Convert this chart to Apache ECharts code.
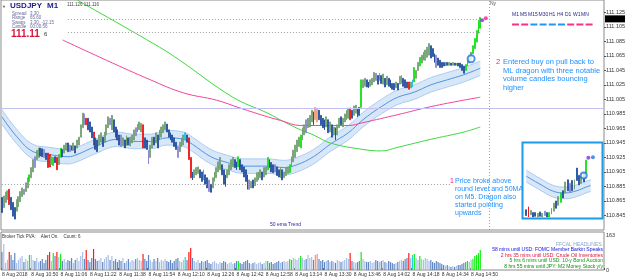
<!DOCTYPE html>
<html>
<head>
<meta charset="utf-8">
<script src="https://cdn.jsdelivr.net/npm/echarts@6.0.0/dist/echarts.min.js"></script>
<style>
  html, body { margin: 0; padding: 0; background: #fff; }
  #chart { width: 625px; height: 279px; }
</style>
</head>
<body>
<div id="chart"></div>
<script>
// prices are written as points (0.001) above basePrice
const basePrice = 110.8;
const startMinute = 10 * 60 + 34; // first bar 10:34
const slotCount = 329;            // bars plus the empty shift area on the right

// M1 candles, "low-high" in points
const candles = [
  '49-70', '56-72', '63-77', '67-79', '60-81', '53-70', '44-63', '40-56', '51-67', '57-71',
  '64-78', '71-83', '74-81', '78-90', '83-97', '92-101', '97-111', '105-122', '111-126', '122-135',
  '125-138', '127-138', '126-137', '125-136', '122-131', '111-131', '112-129', '115-126', '114-125', '118-126',
  '108-125', '115-129', '125-138', '126-136', '131-142', '135-145', '133-145', '133-142', '135-141', '135-145',
  '131-141', '138-149', '142-153', '153-170', '166-186', '170-185', '170-179', '163-179', '160-174', '152-167',
  '142-160', '136-152', '133-149', '142-156', '146-159', '140-153', '146-160', '156-170', '166-181', '170-179',
  '163-183', '160-177', '153-167', '149-163', '142-156', '140-156', '141-152', '138-149', '141-155', '142-152',
  '141-153', '145-156', '149-163', '155-166', '160-171', '163-174', '160-172', '138-170', '138-152', '136-149',
  '116-135', '125-142', '138-153', '142-153', '145-159', '138-156', '149-163', '153-167', '159-170', '163-174',
  '160-171', '153-163', '149-159', '146-156', '140-152', '136-146', '125-140', '133-146', '140-152', '142-156',
  '149-159', '146-156', '122-152', '97-125', '94-105', '97-108', '101-111', '103-112', '97-108', '92-105',
  '94-108', '88-101', '83-97', '78-94', '77-88', '83-97', '92-105', '97-111', '105-119', '108-125',
  '101-115', '88-108', '85-101', '97-108', '101-115', '108-122', '112-125', '111-122', '108-119', '112-126',
  '108-122', '105-115', '98-112', '92-108', '81-101', '81-94', '83-92', '83-94', '86-97', '92-104',
  '94-105', '97-108', '94-105', '98-111', '101-112', '108-125', '111-122', '105-118', '104-115', '105-115',
  '100-112', '98-108', '97-111', '94-108', '97-105', '100-111', '103-112', '104-115', '112-126', '119-135',
  '125-142', '133-149', '140-153', '138-156', '149-166', '156-170', '159-177', '166-179', '167-183', '174-190',
  '170-188', '177-194', '174-193', '177-190', '170-183', '166-179', '163-177', '167-181', '159-177', '160-174',
  '153-170', '156-167', '149-166', '156-170', '166-179', '170-181', '167-179', '174-185', '177-190', '179-193',
  '177-193', '179-190', '183-196', '186-197', '181-193', '183-194', '194-232', '221-232', '223-234', '222-232',
  '221-229', '223-232', '225-234', '229-242', '231-241', '226-238', '231-241', '227-238', '226-240', '222-234',
  '225-237', '223-234', '221-232', '219-227', '218-227', '221-229', '218-227', '226-237', '227-238', '223-234',
  '221-232', '221-229', '219-229', '221-229', '222-232', '229-249', '234-245', '245-256', '251-263', '255-266',
  '259-270', '259-273', '263-277', '266-282', '262-279', '264-275', '256-268', '249-266', '252-262', '249-259',
  '249-256', '251-256', '251-256', '252-256', '252-256', '252-255', '252-256', '252-255', '252-255', '251-255',
  '249-255', '245-253', '241-251', '245-253', '251-259', '255-264', '259-270', '268-279', '275-289', '284-300',
  '296-314', '303-318'
];

// candle kind per bar: u up, d down, l pale, g green climax, r red climax, c cyan, o orange
const candleKinds = (
  'duuurddduu uuluuguulu uddldrrugd rugduudldu duuuulrddd rdduuduuul uddddludud uuuluuurdd ' +
  'luududuuuu ddddddluuu cdrrduuudd uddlduuuuu ddduuuuddg dddddluduu uuduugdddl dduduuuggu ' +
  'uuuguuluuu dooddddudu duduuduuuu rduuddguud duuuldudud udddduduud ddrucguugu uuuudddldd ' +
  'ddudududud dddgguuggg gg'
).replace(/ /g, '');

// tick volume per bar
const volumes = [
  84, 121, 33, 47, 84, 70, 47, 79, 33, 47,
  56, 65, 37, 51, 42, 70, 70, 47, 42, 56,
  37, 42, 51, 33, 47, 70, 84, 42, 79, 65,
  84, 60, 75, 42, 51, 37, 47, 42, 56, 33,
  47, 56, 42, 65, 84, 51, 93, 47, 37, 56,
  98, 51, 42, 47, 56, 37, 51, 60, 70, 47,
  65, 42, 51, 37, 47, 42, 56, 33, 42, 51,
  37, 47, 42, 51, 56, 47, 42, 75, 51, 42,
  70, 47, 37, 51, 42, 56, 37, 47, 42, 51,
  42, 37, 47, 33, 42, 51, 56, 42, 37, 47,
  60, 47, 84, 103, 56, 42, 37, 47, 33, 42,
  37, 42, 47, 33, 28, 37, 42, 33, 28, 37,
  33, 42, 37, 28, 33, 37, 28, 33, 42, 42,
  33, 28, 37, 42, 47, 33, 28, 33, 37, 28,
  33, 37, 28, 33, 42, 42, 33, 37, 28, 33,
  37, 42, 33, 37, 42, 37, 42, 51, 47, 56,
  51, 47, 56, 65, 56, 47, 51, 70, 56, 60,
  47, 70, 75, 51, 42, 47, 37, 42, 47, 37,
  42, 37, 33, 47, 42, 37, 42, 47, 56, 51,
  79, 42, 37, 33, 37, 42, 84, 51, 42, 37,
  37, 42, 33, 37, 47, 42, 37, 42, 47, 37,
  33, 42, 37, 33, 28, 33, 37, 42, 47, 42,
  51, 56, 79, 56, 70, 75, 56, 47, 65, 51,
  47, 56, 51, 42, 47, 37, 33, 42, 37, 33,
  28, 23, 19, 23, 19, 14, 19, 14, 19, 23,
  23, 28, 33, 37, 42, 37, 47, 51, 65, 70,
  79, 93
];

// moving averages, [bar, points]
const slowMa = [[41, 342], [86, 277], [97, 259], [126, 208], [145, 186], [154, 174], [163, 163], [170, 156],
  [179, 145], [197, 136], [207, 134], [216, 139], [234, 150], [252, 160], [261, 167]];
const pinkMa = [[33, 287], [57, 259], [81, 232], [99, 214], [117, 204], [130, 193], [145, 181], [152, 176],
  [163, 169], [179, 169], [189, 169], [197, 173], [216, 184], [234, 195], [252, 204], [261, 208]];
const dragonMid = [[0, 181], [8, 154], [17, 133], [26, 129], [36, 126], [41, 129], [50, 139], [63, 150],
  [72, 147], [81, 147], [90, 152], [99, 150], [104, 143], [114, 126], [123, 118], [132, 113], [145, 113],
  [154, 111], [161, 115], [170, 126], [179, 143], [189, 159], [197, 177], [207, 195], [216, 208],
  [225, 215], [234, 225], [243, 232], [252, 239], [261, 248]];

const roundLevel = 193;     // lavender level
const bidLevel = 316;       // 111.116
const highLevel = 298;
const lowLevel = 88;
const entryCircle = [256, 261];
const purpleDot = [262, 314];
const pinkDot = [264, 317];
const nySession = 266;
const lastPrice = 111.116;

// inset (M5 view), own scale 0..100
const insetCandles = ['2-10', '0-14', '3-9', '0-6', '1-6', '0-5', '1-7', '0-5', '2-8', '0-6',
  '0-6', '4-12', '8-19', '12-22', '16-28', '20-33', '26-36', '33-48', '36-51', '34-46',
  '36-50', '38-51', '50-67', '44-57', '46-56', '48-60', '60-78'];
const insetKinds = 'drudduduldguudugdudlduddudg';
const insetDragon = [[0, 56], [6, 45], [12, 35], [17, 33], [22, 36], [26, 41], [28, 43]];

const candleColor = { u: '#6f9e6f', d: '#1d4a9a', l: '#8c82d2', g: '#10e010', r: '#f00e0e', c: '#1fc0e0', o: '#f49a70' };
const volColor = { u: '#aac0e4', d: '#5f86c4', l: '#5f86c4', g: '#10ee10', r: '#ff1a1a', c: '#22d4d4', o: '#f59080' };

const toPrice = v => +(basePrice + v / 1000).toFixed(4);

const times = [];
for (let i = 0; i < slotCount; i++) {
  const m = startMinute + i;
  times.push(String(Math.floor(m / 60)).padStart(2, '0') + ':' + String(m % 60).padStart(2, '0'));
}

function candleItems(list, kinds, conv) {
  return list.map((s, i) => {
    const [lo, hi] = s.split('-').map(Number);
    const c = candleColor[kinds[i]];
    return {
      value: [conv(lo), conv(hi), conv(lo), conv(hi)],
      itemStyle: { color: c, color0: c, borderColor: c, borderColor0: c }
    };
  });
}

const bandHalf = 10;
const insetHalf = 8;
const font = '"Liberation Sans", Arial, sans-serif';
const blueText = '#1e90ff';
const pinkText = '#ff1493';

const chart = echarts.init(document.getElementById('chart'));

const dotted = { color: '#a0a0a0', type: [1, 2], width: 1 };
const labelBars = i => i % 16 === 0 && i < candles.length;

const option = {
  animation: false,
  textStyle: { fontFamily: font },
  grid: [
    { left: 1, right: 21, top: 0, height: 230, show: true, borderColor: '#8a8a8a', borderWidth: 1, outerBoundsMode: 'none' },
    { left: 1, right: 21, top: 232, height: 38, show: true, borderColor: '#8a8a8a', borderWidth: 1, outerBoundsMode: 'none' },
    { left: 525, top: 144, width: 76, height: 73, show: false, outerBoundsMode: 'none' }
  ],
  xAxis: [
    { type: 'category', gridIndex: 0, data: times, axisLine: { show: false }, axisTick: { show: false }, axisLabel: { show: false }, splitLine: { show: false } },
    {
      type: 'category', gridIndex: 1, data: times, position: 'bottom',
      axisLine: { show: false },
      axisTick: { show: true, interval: labelBars, length: 2, inside: true, lineStyle: { color: '#555' } },
      axisLabel: {
        interval: labelBars, hideOverlap: false,
        formatter: (val, i) => (i === 0 ? '8 Aug 2018' : '8 Aug ' + val),
        fontSize: 5, color: '#333', align: 'left', margin: 2, fontFamily: font
      },
      splitLine: { show: false }
    },
    { type: 'category', gridIndex: 2, data: insetCandles.map((_, i) => i).concat([27, 28, 29, 30, 31, 32]), show: false }
  ],
  yAxis: [
    {
      type: 'value', gridIndex: 0, position: 'right', min: 110.825, max: 111.142, interval: 0.02,
      axisLine: { show: false }, axisTick: { show: true, length: 2, lineStyle: { color: '#555' } },
      axisLabel: { showMinLabel: false, showMaxLabel: false, formatter: v => v.toFixed(3), fontSize: 5.5, color: '#333', margin: 2, fontFamily: font },
      splitLine: { show: false }
    },
    {
      type: 'value', gridIndex: 1, position: 'right', min: 0, max: 177, interval: 163,
      axisLine: { show: false }, axisTick: { show: false },
      axisLabel: { showMaxLabel: false, fontSize: 5.5, color: '#333', margin: 2, fontFamily: font },
      splitLine: { show: false }
    },
    { type: 'value', gridIndex: 2, min: 0, max: 100, show: false }
  ],
  series: [
    // dragon band
    {
      type: 'line', xAxisIndex: 0, yAxisIndex: 0, stack: 'dragon', smooth: 0.4, symbol: 'none', z: 1,
      data: dragonMid.map(([i, v]) => [i, toPrice(v - bandHalf)]),
      lineStyle: { color: '#a9cbf2', width: 1 }
    },
    {
      type: 'line', xAxisIndex: 0, yAxisIndex: 0, stack: 'dragon', smooth: 0.4, symbol: 'none', z: 1,
      data: dragonMid.map(([i]) => [i, 2 * bandHalf / 1000]),
      lineStyle: { color: '#a9cbf2', width: 1 },
      areaStyle: { color: '#d8e7f8', opacity: 1 }
    },
    {
      type: 'line', xAxisIndex: 0, yAxisIndex: 0, smooth: 0.4, symbol: 'none', z: 2,
      data: dragonMid.map(([i, v]) => [i, toPrice(v)]),
      lineStyle: { color: '#4f95e0', width: 1 }
    },
    {
      type: 'line', xAxisIndex: 0, yAxisIndex: 0, smooth: 0.4, symbol: 'none', z: 2,
      data: slowMa.map(([i, v]) => [i, toPrice(v)]),
      lineStyle: { color: '#3fd83f', width: 1 }
    },
    {
      type: 'line', xAxisIndex: 0, yAxisIndex: 0, smooth: 0.4, symbol: 'none', z: 2,
      data: pinkMa.map(([i, v]) => [i, toPrice(v)]),
      lineStyle: { color: '#f2449a', width: 1 }
    },
    {
      type: 'candlestick', xAxisIndex: 0, yAxisIndex: 0, barWidth: 1.4, z: 3,
      data: candleItems(candles, candleKinds, toPrice),
      itemStyle: { borderWidth: 0.8 },
      markLine: {
        silent: true, symbol: 'none', label: { show: false },
        data: [
          [{ coord: [0, toPrice(roundLevel)], lineStyle: { color: '#c4c0f2', type: 'solid', width: 1 } }, { coord: [slotCount - 1, toPrice(roundLevel)] }],
          [{ coord: [36, toPrice(bidLevel)], lineStyle: dotted }, { coord: [261, toPrice(bidLevel)] }],
          [{ coord: [36, toPrice(highLevel)], lineStyle: dotted }, { coord: [261, toPrice(highLevel)] }],
          [{ coord: [0, toPrice(lowLevel)], lineStyle: dotted }, { coord: [245, toPrice(lowLevel)] }],
          { xAxis: nySession, lineStyle: dotted }
        ]
      }
    },
    {
      type: 'scatter', xAxisIndex: 0, yAxisIndex: 0, z: 4, symbolSize: 7,
      data: [[entryCircle[0], toPrice(entryCircle[1])]],
      itemStyle: { color: '#fff', borderColor: '#1f78e0', borderWidth: 2 }
    },
    {
      type: 'scatter', xAxisIndex: 0, yAxisIndex: 0, z: 4, symbolSize: 4,
      data: [
        { value: [purpleDot[0], toPrice(purpleDot[1])], itemStyle: { color: '#8a2be2' } },
        { value: [pinkDot[0], toPrice(pinkDot[1])], itemStyle: { color: '#ff1493' } }
      ]
    },
    // volume
    {
      type: 'bar', xAxisIndex: 1, yAxisIndex: 1, barWidth: 1.2,
      data: volumes.map((v, i) => ({ value: v, itemStyle: { color: volColor[candleKinds[i]] } }))
    },
    // inset chart
    {
      type: 'line', xAxisIndex: 2, yAxisIndex: 2, stack: 'inset', smooth: 0.4, symbol: 'none', z: 61,
      data: insetDragon.map(([i, v]) => [i, v - insetHalf]),
      lineStyle: { color: '#a9cbf2', width: 1 }
    },
    {
      type: 'line', xAxisIndex: 2, yAxisIndex: 2, stack: 'inset', smooth: 0.4, symbol: 'none', z: 61,
      data: insetDragon.map(([i]) => [i, 2 * insetHalf]),
      lineStyle: { color: '#a9cbf2', width: 1 },
      areaStyle: { color: '#d8e7f8', opacity: 1 }
    },
    {
      type: 'line', xAxisIndex: 2, yAxisIndex: 2, smooth: 0.4, symbol: 'none', z: 62,
      data: insetDragon,
      lineStyle: { color: '#4f95e0', width: 1 },
      markLine: {
        silent: true, symbol: 'none', label: { show: false },
        data: [
          [{ coord: [0, 29], lineStyle: { color: '#c4c0f2', type: 'solid', width: 1 } }, { coord: [32, 29] }],
          [{ coord: [4, 82], lineStyle: dotted }, { coord: [27, 82] }],
          [{ coord: [4, 75], lineStyle: dotted }, { coord: [27, 75] }],
          { xAxis: 28, lineStyle: dotted }
        ]
      }
    },
    {
      type: 'candlestick', xAxisIndex: 2, yAxisIndex: 2, barWidth: 1.4, z: 63,
      data: candleItems(insetCandles, insetKinds, v => v),
      itemStyle: { borderWidth: 0.8 }
    },
    {
      type: 'scatter', xAxisIndex: 2, yAxisIndex: 2, z: 64, symbolSize: 6,
      data: [[25, 57]],
      itemStyle: { color: '#fff', borderColor: '#1f78e0', borderWidth: 2 }
    },
    {
      type: 'scatter', xAxisIndex: 2, yAxisIndex: 2, z: 64, symbolSize: 4,
      data: [
        { value: [27, 81], itemStyle: { color: '#8a2be2' } },
        { value: [29, 82], itemStyle: { color: '#1f78e0' } }
      ]
    }
  ],
  graphic: []
};

chart.setOption(option);

// text overlays and the inset frame
const txt = (x, y, text, size, fill, extra) => ({
  type: 'text', x, y, z: 80, silent: true,
  style: Object.assign({ text, fill, font: size + 'px ' + font, verticalAlign: 'top' }, extra || {})
});

const lastY = chart.convertToPixel({ yAxisIndex: 0 }, lastPrice);
const tfNames = ['M1', 'M5', 'M15', 'M30', 'H1', 'H4', 'D1', 'W1', 'MN'];
const tfColors = ['#ff2d8a', '#ff2d8a', '#2196f3', '#2196f3', '#2196f3', '#2196f3', '#ff2d8a', '#ff2d8a', '#ff2d8a'];

const graphics = [
  { type: 'rect', z: 50, silent: true, shape: { x: 523, y: 143, width: 79, height: 75 }, style: { fill: '#fff' } },
  { type: 'rect', z: 90, silent: true, shape: { x: 522.5, y: 142.5, width: 80, height: 76 }, style: { fill: 'none', stroke: '#1e9be8', lineWidth: 2 } },
  txt(2, 5, '\u25BC', 4, '#555'),
  txt(10, 2, 'USDJPY', 8, '#1c1c86', { font: 'bold 8px ' + font }),
  txt(47, 2, 'M1', 8, '#1c1c86', { font: 'bold 8px ' + font }),
  txt(12, 11, 'Spread', 4.5, '#6a6aa0'), txt(30, 11, '3.30', 4.5, '#6a6aa0'),
  txt(12, 15.5, 'Range', 4.5, '#6a6aa0'), txt(30, 15.5, '65.60', 4.5, '#6a6aa0'),
  txt(12, 20, 'Swaps', 4.5, '#6a6aa0'), txt(30, 20, '3.30, -12.15', 4.5, '#6a6aa0'),
  txt(12, 24.5, 'Candle', 4.5, '#6a6aa0'), txt(30, 24.5, '00:00:56', 4.5, '#6a6aa0'),
  txt(11, 29, '111.11', 10, '#dc143c', { font: 'bold 10px ' + font }),
  txt(44, 31, '6', 6, '#333'),
  txt(67, 2, '111.126 111.116', 4.5, '#444'),
  txt(490, 1, 'Ny', 5, '#555'),
  txt(270, 222, '50 ema Trend', 5, '#1c1ca0'),
  txt(2, 234, 'Broker Tick PVA:    Alert On.    Count: 6', 4.5, '#333'),
  txt(496, 58, '2', 7.5, pinkText),
  txt(503, 58, 'Entered buy on pull back to', 7.5, blueText),
  txt(503, 66.5, 'ML dragon with three notable', 7.5, blueText),
  txt(503, 75, 'volume candles bouncing', 7.5, blueText),
  txt(503, 83.5, 'higher', 7.5, blueText),
  txt(450, 178, '1', 7, pinkText),
  txt(455, 178, 'Price broke above', 7, blueText),
  txt(455, 186, 'round level and 50MA', 7, blueText),
  txt(455, 194, 'on M5. Dragon also', 7, blueText),
  txt(455, 202, 'started pointing', 7, blueText),
  txt(455, 210, 'upwards', 7, blueText),
  txt(603, 242, 'FFCAL HEADLINES:', 5, '#8aa4cc', { align: 'right' }),
  txt(603, 247.5, '58 mins until USD: FOMC Member Barkin Speaks', 5, '#1010e0', { align: 'right' }),
  txt(603, 253, '2 hrs 35 mins until USD: Crude Oil Inventories', 5, '#e0103c', { align: 'right' }),
  txt(603, 258.5, '5 hrs 6 mins until USD: 10-y Bond Auction', 5, '#0a9a0a', { align: 'right' }),
  txt(603, 264, '8 hrs 55 mins until JPY: M2 Money Stock y/y', 5, '#0a8a0a', { align: 'right' }),
  { type: 'rect', z: 85, silent: true, shape: { x: 605, y: lastY - 3.5, width: 20, height: 7 }, style: { fill: '#000' } },
  txt(606, lastY - 2.8, lastPrice.toFixed(3), 5.5, '#fff')
];

let tx = 512;
tfNames.forEach((n, i) => {
  graphics.push(txt(tx, 12, n, 5, '#26268a'));
  graphics.push({ type: 'rect', z: 80, silent: true, shape: { x: 512 + i * 9.2, y: 23.5, width: 7, height: 2 }, style: { fill: tfColors[i] } });
  tx += n.length > 2 ? 10.5 : 8;
});

chart.setOption({ graphic: graphics });
</script>
</body>
</html>
